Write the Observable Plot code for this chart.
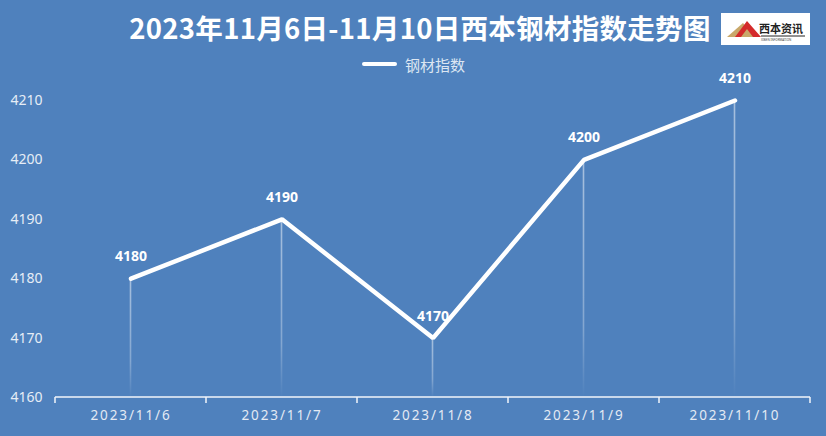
<!DOCTYPE html>
<html><head><meta charset="utf-8">
<script src="https://cdn.jsdelivr.net/npm/d3@7"></script>
<script src="https://cdn.jsdelivr.net/npm/@observablehq/plot@0.6"></script>
<style>
body{margin:0;background:#4F81BD;}
#wrap{position:relative;width:826px;height:436px;overflow:hidden;background:#4F81BD;font-family:"Noto Sans","Noto Sans CJK SC",sans-serif;}
#title{position:absolute;left:0;top:8px;width:840px;text-align:center;color:#fff;font-family:"Noto Sans CJK SC","Noto Sans",sans-serif;font-weight:700;font-size:27.5px;letter-spacing:0.3px;line-height:38px;white-space:nowrap;}
#legend{position:absolute;left:362px;top:53px;height:22px;display:flex;align-items:center;color:#dce6f2;font-family:"Noto Sans CJK SC",sans-serif;font-size:15px;}
#legend .sw{display:inline-block;width:35px;height:4px;border-radius:2px;background:#fff;margin-right:8px;}
#logo{position:absolute;left:721px;top:13px;}
#chart{position:absolute;left:0;top:0;}
#chart svg [aria-label="x-axis tick label"] text{letter-spacing:1.9px;}
</style></head>
<body>
<div id="wrap">
  <div id="chart"></div>
  <div id="title">2023年11月6日-11月10日西本钢材指数走势图</div>
  <div id="legend"><span class="sw"></span><span>钢材指数</span></div>
  <svg id="logo" width="89" height="32" viewBox="0 0 89 32">
    <rect x="0" y="0" width="89" height="32" fill="#fff"/>
    <polygon points="6,24 22,10 34,24" fill="#c9a86a"/>
    <polygon points="14,24 26,8 40,24 32,24 26,16 20,24" fill="#d42a2a"/>
    <text x="60" y="20" text-anchor="middle" font-family="Noto Sans CJK SC" font-weight="700" font-size="11" fill="#222">西本资讯</text>
    <line x1="40" y1="23" x2="84" y2="23" stroke="#222" stroke-width="1"/>
    <text x="40" y="28" font-family="Noto Sans" font-size="3" fill="#444">XIBEN INFORMATION</text>
  </svg>
</div>
<script>
const dates = ["2023/11/6","2023/11/7","2023/11/8","2023/11/9","2023/11/10"];
const values = [4180, 4190, 4170, 4200, 4210];
const yTicks = [4160, 4170, 4180, 4190, 4200, 4210];

const data = dates.map((d, i) => ({date: d, value: values[i]}));
const yMin = yTicks[0], yMax = yTicks[yTicks.length - 1];

function dropLines(index, scales) {
  const x = scales.x, y = scales.y;
  const bw = typeof x.bandwidth === "function" ? x.bandwidth() : (x.bandwidth || 0);
  const g = d3.create("svg:g");
  const defs = g.append("defs");
  data.forEach((d, i) => {
    const cx = x(d.date) + bw / 2;
    const yTop = y(d.value), yBot = y(yMin);
    const gr = defs.append("linearGradient").attr("id", "dg" + i)
      .attr("gradientUnits", "userSpaceOnUse")
      .attr("x1", 0).attr("x2", 0).attr("y1", yTop).attr("y2", yBot);
    gr.append("stop").attr("offset", 0).attr("stop-color", "#fff").attr("stop-opacity", 0.5);
    gr.append("stop").attr("offset", 0.7).attr("stop-color", "#fff").attr("stop-opacity", 0.3);
    gr.append("stop").attr("offset", 1).attr("stop-color", "#fff").attr("stop-opacity", 0);
    g.append("line").attr("x1", cx).attr("x2", cx).attr("y1", yTop).attr("y2", yBot)
      .attr("stroke", `url(#dg${i})`).attr("stroke-width", 1.6);
  });
  return g.node();
}

function baseAxis(index, scales) {
  const x = scales.x, y = scales.y;
  const bw = typeof x.bandwidth === "function" ? x.bandwidth() : (x.bandwidth || 0);
  const dom = x.domain();
  const edges = dom.map(d => x(d)).concat([x(dom[dom.length - 1]) + bw]);
  const y0 = y(yMin);
  const g = d3.create("svg:g").attr("stroke", "#f2f6fb").attr("stroke-width", 1.5);
  g.append("line").attr("x1", edges[0]).attr("x2", edges[edges.length - 1]).attr("y1", y0).attr("y2", y0);
  edges.forEach(e => g.append("line").attr("x1", e).attr("x2", e).attr("y1", y0).attr("y2", y0 + 6));
  return g.node();
}

const chart = Plot.plot({
  width: 826,
  height: 436,
  marginLeft: 53,
  marginRight: 15,
  marginTop: 100,
  marginBottom: 39,
  style: {background: "transparent", fontFamily: "'Noto Sans', sans-serif", overflow: "visible"},
  x: {type: "band", domain: dates, padding: 0, label: null},
  y: {domain: [yMin, yMax], label: null},
  marks: [
    dropLines,
    Plot.axisY({ticks: yTicks, tickFormat: "d", tickSize: 0, tickPadding: 11, fontSize: 14, color: "#e6edf6", label: null}),
    Plot.axisX({tickSize: 0, tickPadding: 13, fontSize: 13.5, color: "#e3eaf4", label: null}),
    baseAxis,
    Plot.line(data, {x: "date", y: "value", stroke: "#fff", strokeWidth: 4.5, strokeLinejoin: "miter"}),
    Plot.text(data, {x: "date", y: "value", text: d => String(d.value), dy: -22, fill: "#fff", fontWeight: "bold", fontSize: 14})
  ]
});
document.getElementById("chart").appendChild(chart);
</script>
</body></html>
